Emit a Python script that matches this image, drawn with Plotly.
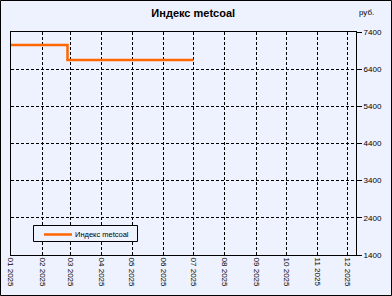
import plotly.graph_objects as go

dates = ["2025-01-01", "2025-01-15", "2025-02-01", "2025-02-15", "2025-02-26",
         "2025-03-15", "2025-04-01", "2025-05-01", "2025-06-01", "2025-07-01"]
values = [7050, 7050, 7050, 7050, 6650, 6650, 6650, 6650, 6650, 6650]
series_name = "Индекс metcoal"
title = "Индекс metcoal"
unit = "руб."

BG = "#EEF2FE"
LINE = "#FF6600"
FONT = "Liberation Sans, Arial, sans-serif"
L, R, T, B = 11, 36, 32, 41
W, H = 392, 296
PW, PH = W - L - R, H - T - B


def px(xp):
    return (xp - L) / PW


def py(yp):
    return (H - B - yp) / PH


fig = go.Figure()
fig.add_trace(go.Scatter(x=dates, y=values, mode="lines", name=series_name,
                         line=dict(color=LINE, width=2.5, shape="hv"), showlegend=False))

fig.update_layout(
    width=W, height=H,
    margin=dict(l=L, r=R, t=T, b=B, autoexpand=False),
    paper_bgcolor=BG, plot_bgcolor=BG,
    font=dict(family=FONT, size=8, color="#000000"),
    title=dict(text="<b>" + title + "</b>", x=0.493, xanchor="center", y=0.955, yanchor="middle",
               font=dict(family=FONT, size=11, color="#000000")),
    xaxis=dict(type="date", range=["2025-01-01", "2025-12-09"], automargin=False,
               tick0="2025-01-01", dtick="M1", tickformat="%m %Y", tickangle=90,
               showgrid=True, gridcolor="#000000", griddash="3px,2px", gridwidth=1,
               showline=True, linecolor="#000000", linewidth=1, mirror=True,
               ticks="", tickfont=dict(size=8), zeroline=False),
    yaxis=dict(side="right", range=[1400, 7400], tick0=1400, dtick=1000, automargin=False,
               showgrid=True, gridcolor="#000000", griddash="3px,2px", gridwidth=1,
               showline=True, linecolor="#000000", linewidth=1, mirror=True,
               ticks="outside", ticklen=5, tickcolor="#000000",
               tickfont=dict(size=8), zeroline=False),
)
fig.add_annotation(text=unit, xref="paper", yref="paper", x=px(357), y=py(13),
                   xanchor="left", yanchor="middle", showarrow=False,
                   font=dict(family=FONT, size=8))
# legend box (drawn manually to match the compact legend)
fig.add_shape(type="rect", xref="paper", yref="paper",
              x0=px(33.5), x1=px(137.5), y0=py(241.5), y1=py(225.5),
              line=dict(color="#000000", width=1), fillcolor=BG, layer="above")
fig.add_shape(type="line", xref="paper", yref="paper",
              x0=px(44), x1=px(72), y0=py(234.5), y1=py(234.5),
              line=dict(color=LINE, width=2.5), layer="above")
fig.add_annotation(text=series_name, xref="paper", yref="paper", x=px(73), y=py(234.5),
                   xanchor="left", yanchor="middle", showarrow=False,
                   font=dict(family=FONT, size=7.5))
fig.add_shape(type="rect", xref="paper", yref="paper",
              x0=px(0.5), x1=px(W - 0.5), y0=py(H - 0.5), y1=py(0.5),
              line=dict(color="#000000", width=1), fillcolor="rgba(0,0,0,0)", layer="below")
fig.write_html("out.html")
